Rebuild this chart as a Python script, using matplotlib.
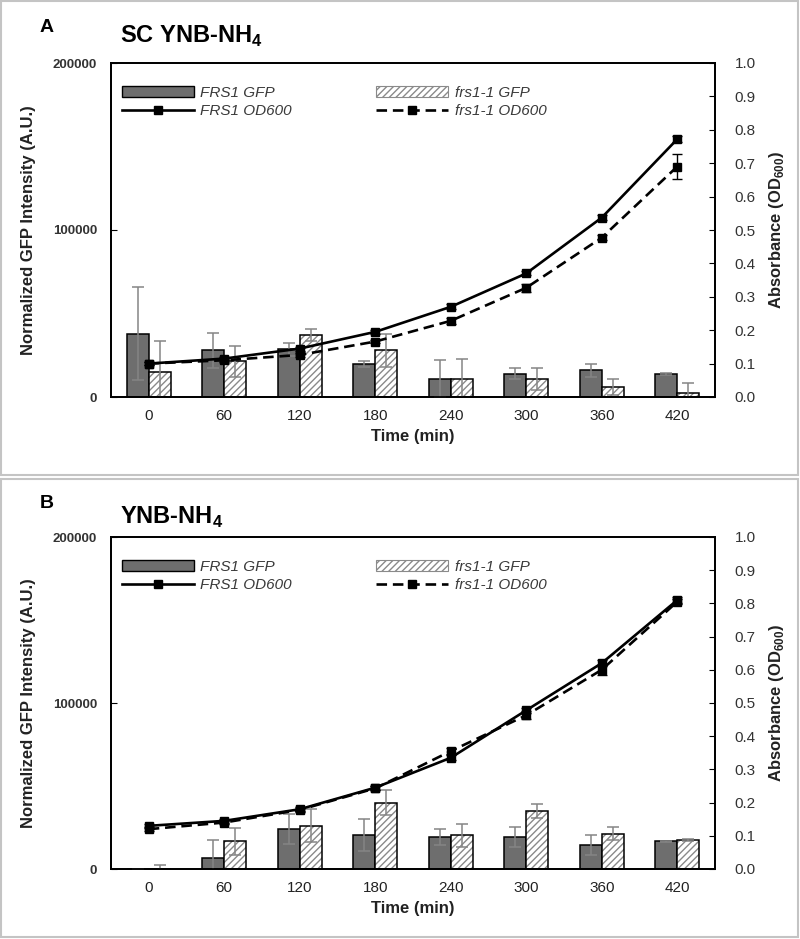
import matplotlib
matplotlib.use("Agg")
import matplotlib.pyplot as plt
import numpy as np
from matplotlib.patches import Rectangle, Patch
from matplotlib.lines import Line2D

plt.rcParams['font.family'] = ['Liberation Sans', 'DejaVu Sans']
plt.rcParams['mathtext.fontset'] = 'custom'
plt.rcParams['mathtext.rm'] = 'Liberation Sans'
plt.rcParams['mathtext.bf'] = 'Liberation Sans:bold'
plt.rcParams['hatch.linewidth'] = 1.0

times = ['0', '60', '120', '180', '240', '300', '360', '420']

# Panel A: SC YNB-NH4
A_frs1_gfp = [38000, 28000, 28500, 20000, 11000, 14000, 16000, 14000]
A_frs1_gfp_err = [28000, 10500, 4000, 1800, 11000, 3500, 4000, 600]
A_mut_gfp = [15000, 21500, 37000, 28000, 11000, 11000, 6000, 2200]
A_mut_gfp_err = [18500, 9300, 3600, 10000, 12000, 6600, 5000, 6000]
A_frs1_od = [0.10, 0.115, 0.145, 0.195, 0.27, 0.37, 0.537, 0.772]
A_frs1_od_err = [0.005, 0.005, 0.006, 0.005, 0.008, 0.006, 0.008, 0.008]
A_mut_od = [0.10, 0.11, 0.126, 0.166, 0.228, 0.327, 0.477, 0.69]
A_mut_od_err = [0.005, 0.005, 0.006, 0.005, 0.008, 0.012, 0.008, 0.037]

# Panel B: YNB-NH4
B_frs1_gfp = [0, 6700, 24200, 20600, 19200, 19200, 14200, 16600]
B_frs1_gfp_err = [0, 10900, 9200, 9500, 5000, 5900, 6000, 400]
B_mut_gfp = [0, 16600, 26100, 40000, 20200, 35000, 21200, 17400]
B_mut_gfp_err = [2500, 8100, 9900, 7500, 6900, 4000, 3900, 500]
B_frs1_od = [0.13, 0.145, 0.18, 0.245, 0.335, 0.478, 0.62, 0.81]
B_frs1_od_err = [0.006, 0.005, 0.006, 0.006, 0.008, 0.008, 0.010, 0.008]
B_mut_od = [0.12, 0.14, 0.178, 0.243, 0.355, 0.463, 0.60, 0.805]
B_mut_od_err = [0.006, 0.005, 0.006, 0.006, 0.010, 0.012, 0.015, 0.008]

W, H = 800, 939
fig = plt.figure(figsize=(W / 100, H / 100), dpi=100)

GRAY = '#6e6e6e'
ERRC = '#858585'
TXT = '#222222'


def px_axes(l, r, t, b):
    return fig.add_axes([l / W, 1 - b / H, (r - l) / W, (b - t) / H])


def panel(rect, letter, title, frs_gfp, frs_gfp_err, mut_gfp, mut_gfp_err,
          frs_od, frs_od_err, mut_od, mut_od_err, box, lab_y, title_y, leg_y):
    # panel border
    fig.patches.append(Rectangle((box[0] / W, 1 - box[3] / H),
                                 (box[2] - box[0]) / W, (box[3] - box[1]) / H,
                                 transform=fig.transFigure, fill=False,
                                 edgecolor='#c4c4c4', linewidth=1.5))
    fig.text(40 / W, 1 - lab_y / H, letter, fontsize=14, fontweight='bold',
             va='center', ha='left', color='black')
    fig.text(120 / W, 1 - title_y / H, title, fontsize=17, fontweight='bold',
             va='center', ha='left', color='black')

    ax = px_axes(*rect)
    x = np.arange(len(times))
    w = 0.29
    ax.bar(x - w / 2, frs_gfp, w, color=GRAY, edgecolor='black', linewidth=1.1, zorder=2)
    ax.bar(x + w / 2, mut_gfp, w, color='white', edgecolor='#8a8a8a', hatch='/////',
           linewidth=0, zorder=2)
    ax.bar(x + w / 2, mut_gfp, w, fill=False, edgecolor='black', linewidth=1.1, zorder=3)
    ax.errorbar(x - w / 2, frs_gfp, yerr=frs_gfp_err, fmt='none', ecolor=ERRC,
                elinewidth=1.1, capsize=4.5, capthick=1.1, zorder=4)
    ax.errorbar(x + w / 2, mut_gfp, yerr=mut_gfp_err, fmt='none', ecolor=ERRC,
                elinewidth=1.1, capsize=4.5, capthick=1.1, zorder=4)
    ax.set_xlim(-0.5, len(times) - 0.5)
    ax.set_ylim(0, 200000)
    ax.set_yticks([0, 100000, 200000])
    ax.set_yticklabels(['0', '100000', '200000'], fontsize=9.5, fontweight='bold',
                       color='#333333')
    ax.set_xticks(x)
    ax.set_xticklabels(times, fontsize=11, color=TXT)
    ax.tick_params(axis='x', length=0, pad=9)
    ax.tick_params(axis='y', direction='in', length=4, pad=10)
    ax.set_xlabel('Time (min)', fontsize=12, fontweight='bold', color=TXT, labelpad=4)
    ax.set_ylabel('Normalized GFP Intensity (A.U.)', fontsize=12, fontweight='bold',
                  color=TXT, labelpad=12)
    for s in ax.spines.values():
        s.set_linewidth(1.3)

    ax2 = ax.twinx()
    ax2.errorbar(x, frs_od, yerr=frs_od_err, color='black', linewidth=1.9,
                 marker='s', markersize=6, capsize=3.5, elinewidth=1, zorder=5)
    ax2.errorbar(x, mut_od, yerr=mut_od_err, color='black', linewidth=1.9,
                 linestyle=(0, (4, 2.2)), marker='s', markersize=6, capsize=3.5,
                 elinewidth=1, zorder=5)
    ax2.set_ylim(0, 1.0)
    ax2.set_yticks(np.arange(0, 1.01, 0.1))
    ax2.set_yticklabels([f'{v:.1f}' for v in np.arange(0, 1.01, 0.1)], fontsize=11,
                        color='#333333')
    ax2.tick_params(axis='y', direction='in', length=4, pad=14)
    ax2.set_ylabel(r'Absorbance (OD$_{\mathbf{600}}$)', fontsize=12, fontweight='bold',
                   color=TXT, labelpad=8)
    for s in ax2.spines.values():
        s.set_linewidth(1.3)

    handles = [
        Patch(facecolor=GRAY, edgecolor='black', linewidth=1.0),
        Line2D([], [], color='black', linewidth=1.9, marker='s', markersize=6),
        Patch(facecolor='white', edgecolor='#8a8a8a', hatch='/////', linewidth=0.8),
        Line2D([], [], color='black', linewidth=1.9, linestyle=(0, (4, 2.2)),
               marker='s', markersize=6),
    ]
    labels = ['FRS1 GFP', 'FRS1 OD600', 'frs1-1 GFP', 'frs1-1 OD600']
    leg = ax2.legend(handles, labels, ncol=2, loc='upper left',
                     bbox_to_anchor=(108 / W, 1 - leg_y / H),
                     bbox_transform=fig.transFigure, frameon=False,
                     handlelength=4.7, handleheight=0.7, columnspacing=5.5,
                     labelspacing=0.3, handletextpad=0.45,
                     prop={'style': 'italic', 'size': 11})
    for t in leg.get_texts():
        t.set_color('#3a3a3a')
    return ax, ax2


panel((111, 715, 63, 397), 'A', r'SC YNB-NH$_{\mathbf{4}}$',
      A_frs1_gfp, A_frs1_gfp_err, A_mut_gfp, A_mut_gfp_err,
      A_frs1_od, A_frs1_od_err, A_mut_od, A_mut_od_err,
      (1, 1, 798, 475), 27, 36, 72)
panel((111, 715, 537, 869), 'B', r'YNB-NH$_{\mathbf{4}}$',
      B_frs1_gfp, B_frs1_gfp_err, B_mut_gfp, B_mut_gfp_err,
      B_frs1_od, B_frs1_od_err, B_mut_od, B_mut_od_err,
      (1, 479, 798, 937), 503, 517, 546)

fig.savefig('out.png', dpi=100)
